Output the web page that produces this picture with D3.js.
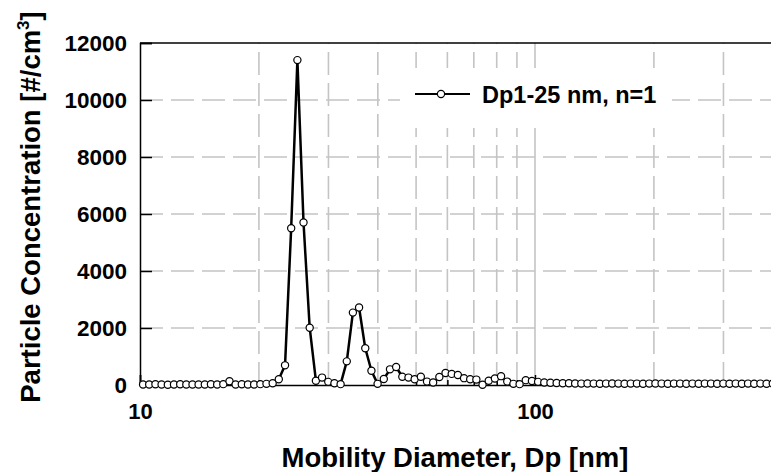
<!DOCTYPE html>
<html>
<head>
<meta charset="utf-8">
<script src="https://cdn.jsdelivr.net/npm/d3@7"></script>
<style>
  html, body { margin: 0; padding: 0; background: #fff; }
  svg { display: block; }
  text { font-family: "Liberation Sans", Arial, sans-serif; font-weight: bold; fill: #000; }
</style>
</head>
<body>
<svg id="chart" width="771" height="472"></svg>
<script>
// SMPS channel midpoints (nm), 64 channels per decade
const diameters = [
  10.18, 10.55, 10.94, 11.34, 11.76, 12.19, 12.64, 13.10, 13.58, 14.07,
  14.59, 15.12, 15.68, 16.25, 16.85, 17.46, 18.10, 18.76, 19.45, 20.17,
  20.90, 21.67, 22.46, 23.29, 24.14, 25.03, 25.94, 26.89, 27.88, 28.90,
  29.96, 31.06, 32.20, 33.38, 34.59, 35.86, 37.18, 38.54, 39.95, 41.42,
  42.94, 44.51, 46.14, 47.83, 49.58, 51.40, 53.28, 55.23, 57.26, 59.36,
  61.53, 63.78, 66.12, 68.54, 71.05, 73.65, 76.35, 79.15, 82.05, 85.06,
  88.17, 91.41, 94.75, 98.22, 101.82, 105.55, 109.42, 113.43, 117.59, 121.90,
  126.36, 130.99, 135.79, 140.77, 145.93, 151.28, 156.82, 162.57, 168.53, 174.70,
  181.11, 187.74, 194.62, 201.76, 209.15, 216.82, 224.76, 233.00, 241.54, 250.39,
  259.57, 269.08, 278.94, 289.16, 299.76, 310.75, 322.14, 333.94, 346.18, 358.87,
  372.02, 385.65, 399.79, 414.43
];

// Number concentration per channel (#/cm3)
const concentration = [
  20, 15, 25, 20, 10, 20, 25, 15, 20, 20,
  15, 25, 20, 30, 130, 20, 25, 15, 20, 30,
  40, 60, 200, 690, 5500, 11400, 5700, 2010, 150, 260,
  110, 60, 30, 830, 2540, 2720, 1290, 500, 40, 210,
  550, 630, 290, 260, 200, 290, 120, 90, 280, 420,
  390, 350, 240, 200, 190, 10, 150, 230, 310, 120,
  40, 30, 170, 140, 110, 90, 80, 70, 60, 60,
  55, 50, 55, 50, 45, 50, 55, 50, 45, 50,
  50, 45, 50, 55, 50, 45, 50, 50, 45, 50,
  45, 50, 50, 45, 50, 45, 50, 45, 50, 45,
  50, 45, 50, 45
];

const seriesLabel = "Dp1-25 nm, n=1";
const yTicks = [0, 2000, 4000, 6000, 8000, 10000, 12000];
const xMajorTicks = [10, 100];
const xMinorTicks = [20, 30, 40, 50, 60, 70, 80, 90, 200, 300, 400, 500, 600, 700, 800, 900];
const xTitle = "Mobility Diameter, Dp [nm]";
const yTitle = "Particle Concentration [#/cm";

const svg = d3.select("#chart");
const plot = { left: 140, right: 930, top: 43, bottom: 385 };

const x = d3.scaleLog().domain([10, 1000]).range([plot.left, plot.right]);
const y = d3.scaleLinear().domain([0, 12000]).range([plot.bottom, plot.top]);

// grid
const grid = svg.append("g");
grid.selectAll("line.h").data(yTicks.filter(v => v > 0 && v < 12000)).join("line")
  .attr("x1", plot.left).attr("x2", plot.right)
  .attr("y1", d => y(d)).attr("y2", d => y(d))
  .attr("stroke", "#c4c4c4").attr("stroke-width", 1.6)
  .attr("stroke-dasharray", "23,8");
grid.selectAll("line.v").data(xMinorTicks).join("line")
  .attr("x1", d => x(d)).attr("x2", d => x(d))
  .attr("y1", plot.bottom).attr("y2", plot.top)
  .attr("stroke", "#c4c4c4").attr("stroke-width", 1.6)
  .attr("stroke-dasharray", "23,8");
grid.append("line")
  .attr("x1", x(100)).attr("x2", x(100))
  .attr("y1", plot.bottom).attr("y2", plot.top)
  .attr("stroke", "#c4c4c4").attr("stroke-width", 1.6);

// frame
svg.append("line").attr("x1", plot.left).attr("x2", plot.right)
  .attr("y1", plot.top).attr("y2", plot.top).attr("stroke", "#000").attr("stroke-width", 1.5);

// axes (ticks point inward)
const yAxis = d3.axisLeft(y).tickValues(yTicks).tickSize(-12).tickPadding(24)
  .tickFormat(d3.format("d"));
const gy = svg.append("g").attr("transform", `translate(${plot.left},0)`).call(yAxis);
gy.select(".domain").attr("stroke-width", 1.5);
gy.selectAll(".tick line").attr("stroke-width", 1.5);
gy.selectAll(".tick text").attr("font-size", 22.5).attr("font-family", "Liberation Sans, Arial, sans-serif")
  .attr("font-weight", "bold").attr("x", -13);

const xAxis = d3.axisBottom(x).tickValues(xMajorTicks).tickSize(-10).tickPadding(20)
  .tickFormat(d3.format("d"));
const gx = svg.append("g").attr("transform", `translate(0,${plot.bottom})`).call(xAxis);
gx.select(".domain").attr("stroke-width", 1.5);
gx.selectAll(".tick line").attr("stroke-width", 1.5);
gx.selectAll(".tick text").attr("font-size", 22).attr("font-family", "Liberation Sans, Arial, sans-serif")
  .attr("font-weight", "bold").attr("y", 18);
const gxm = d3.axisBottom(x).tickValues(xMinorTicks).tickSize(-5).tickFormat("");
const gm = svg.append("g").attr("transform", `translate(0,${plot.bottom})`).call(gxm);
gm.select(".domain").remove();
gm.selectAll(".tick line").attr("stroke-width", 1.5);

// legend
const lg = svg.append("g");
lg.append("rect").attr("x", 400).attr("y", 68).attr("width", 272).attr("height", 60).attr("fill", "#fff");
lg.append("line").attr("x1", 415).attr("x2", 470).attr("y1", 94).attr("y2", 94)
  .attr("stroke", "#000").attr("stroke-width", 2);
lg.append("circle").attr("cx", 441).attr("cy", 94).attr("r", 3.6)
  .attr("fill", "#fff").attr("stroke", "#000").attr("stroke-width", 1.2);
lg.append("text").attr("x", 482).attr("y", 103).attr("font-size", 23.5).text(seriesLabel);

// series
const pts = diameters.map((d, i) => ({ d, c: concentration[i] }));
svg.append("path").datum(pts)
  .attr("fill", "none").attr("stroke", "#000").attr("stroke-width", 2.5)
  .attr("stroke-linejoin", "round")
  .attr("d", d3.line().x(p => x(p.d)).y(p => y(p.c)));
svg.append("g").selectAll("circle").data(pts).join("circle")
  .attr("cx", p => x(p.d)).attr("cy", p => y(p.c)).attr("r", 3.6)
  .attr("fill", "#fff").attr("stroke", "#000").attr("stroke-width", 1.2);

// titles
svg.append("text").attr("x", 455).attr("y", 467).attr("text-anchor", "middle")
  .attr("font-size", 27.5).text(xTitle);
const yt = svg.append("text").attr("transform", "translate(40,207) rotate(-90)")
  .attr("text-anchor", "middle").attr("font-size", 27.5);
yt.append("tspan").text(yTitle);
yt.append("tspan").attr("font-size", 17).attr("dy", -11).text("3");
yt.append("tspan").attr("dy", 11).text("]");
</script>
</body>
</html>
